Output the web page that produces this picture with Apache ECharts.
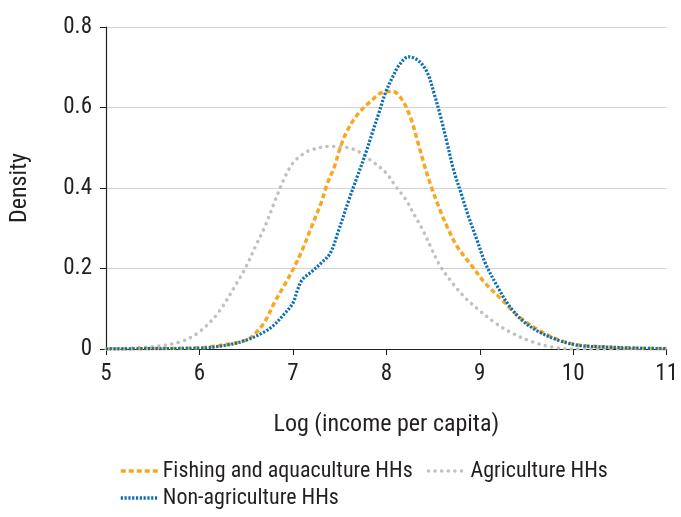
<!DOCTYPE html>
<html>
<head>
<meta charset="utf-8">
<script src="https://cdn.jsdelivr.net/npm/echarts@6/dist/echarts.min.js"></script>
<style>
  html, body { margin: 0; padding: 0; background: #fff; }
  #chart { width: 681px; height: 517px; }
</style>
</head>
<body>
<div id="chart"></div>
<script>
// Kernel density of log income per capita, by household type
const seriesNames = ['Fishing and aquaculture HHs', 'Agriculture HHs', 'Non-agriculture HHs'];

const fishX = [5.0, 5.5, 6.0, 6.3, 6.5, 6.6, 6.7, 6.8, 6.9, 7.0, 7.1, 7.2, 7.3, 7.37, 7.44, 7.5, 7.57, 7.69, 7.85, 7.96, 8.07, 8.17, 8.26, 8.33, 8.4, 8.48, 8.56, 8.65, 8.76, 8.92, 9.06, 9.24, 9.42, 9.63, 9.85, 10.06, 10.34, 10.7, 11.0];
const fishY = [0.0, 0.001, 0.003, 0.012, 0.022, 0.039, 0.068, 0.114, 0.155, 0.197, 0.246, 0.304, 0.362, 0.412, 0.450, 0.495, 0.537, 0.582, 0.619, 0.638, 0.640, 0.619, 0.574, 0.520, 0.462, 0.404, 0.354, 0.304, 0.254, 0.205, 0.163, 0.122, 0.080, 0.047, 0.022, 0.010, 0.005, 0.002, 0.001];

const agriX = [5.0, 5.5, 5.8, 6.0, 6.2, 6.4, 6.5, 6.6, 6.7, 6.8, 6.9, 7.0, 7.1, 7.2, 7.38, 7.64, 7.85, 8.0, 8.1, 8.21, 8.3, 8.39, 8.49, 8.58, 8.71, 8.85, 8.99, 9.17, 9.35, 9.56, 9.77, 10.0, 11.0];
const agriY = [0.0, 0.006, 0.018, 0.043, 0.090, 0.164, 0.205, 0.255, 0.304, 0.363, 0.420, 0.462, 0.483, 0.495, 0.503, 0.497, 0.466, 0.437, 0.404, 0.371, 0.333, 0.296, 0.246, 0.205, 0.163, 0.126, 0.097, 0.064, 0.039, 0.018, 0.005, 0.0, 0.0];

const nonAgX = [5.0, 5.5, 6.0, 6.3, 6.5, 6.7, 6.8, 6.9, 7.0, 7.05, 7.1, 7.2, 7.3, 7.4, 7.48, 7.6, 7.69, 7.78, 7.85, 7.92, 7.99, 8.07, 8.14, 8.24, 8.35, 8.44, 8.51, 8.58, 8.65, 8.72, 8.8, 8.88, 8.97, 9.06, 9.19, 9.31, 9.45, 9.63, 9.85, 10.06, 10.34, 10.7, 11.0];
const nonAgY = [0.0, 0.001, 0.002, 0.010, 0.022, 0.043, 0.060, 0.085, 0.114, 0.147, 0.172, 0.192, 0.213, 0.238, 0.288, 0.371, 0.429, 0.487, 0.537, 0.586, 0.636, 0.677, 0.706, 0.726, 0.715, 0.686, 0.636, 0.578, 0.512, 0.445, 0.387, 0.329, 0.271, 0.213, 0.155, 0.109, 0.072, 0.043, 0.021, 0.009, 0.005, 0.002, 0.001];

const xTicks = [5, 6, 7, 8, 9, 10, 11];
const yTicks = [0, 0.2, 0.4, 0.6, 0.8];

const zip = (xs, ys) => xs.map((x, i) => [x, ys[i]]);

const FONT = "'Roboto Condensed', 'Open Sans', sans-serif";
const TEXT = '#231f20';

const chart = echarts.init(document.getElementById('chart'), null, { renderer: 'canvas' });

const baseSeries = (name, xs, ys, color, dash, width, cap) => ({
  name,
  type: 'line',
  data: zip(xs, ys),
  smooth: 0.35,
  symbol: 'none',
  showSymbol: false,
  color,
  lineStyle: { color, width, type: dash, cap: cap || 'butt' },
  animation: false
});

const legendBase = {
  itemWidth: 37, itemHeight: 14, itemGap: 14,
  itemStyle: { opacity: 0 },
  lineStyle: { width: 3.5 },
  textStyle: { fontFamily: FONT, fontSize: 22, color: TEXT }
};

chart.setOption({
  animation: false,
  textStyle: { fontFamily: FONT, color: TEXT },
  grid: { left: 106, right: 13, top: 27, bottom: 168, containLabel: false },
  legend: [
    Object.assign({ data: [seriesNames[0], seriesNames[1]], left: 114, top: 455 }, legendBase),
    Object.assign({ data: [seriesNames[2]], left: 114, top: 482 }, legendBase)
  ],
  xAxis: {
    type: 'value',
    min: xTicks[0], max: xTicks[xTicks.length - 1], interval: 1,
    name: 'Log (income per capita)',
    nameLocation: 'middle', nameGap: 64,
    nameTextStyle: { fontFamily: FONT, fontSize: 24, color: TEXT },
    axisLine: { show: true, lineStyle: { color: '#231f20', width: 1.2 } },
    axisTick: { show: true, length: 6, lineStyle: { color: '#231f20' } },
    axisLabel: { fontFamily: FONT, fontSize: 23, color: TEXT, margin: 14 },
    splitLine: { show: false }
  },
  yAxis: {
    type: 'value',
    min: yTicks[0], max: yTicks[yTicks.length - 1], interval: 0.2,
    name: 'Density',
    nameLocation: 'middle', nameGap: 74, nameRotate: 90,
    nameTextStyle: { fontFamily: FONT, fontSize: 24, color: TEXT },
    axisLine: { show: true, lineStyle: { color: '#231f20', width: 1.2 } },
    axisTick: { show: true, length: 6, lineStyle: { color: '#231f20' } },
    axisLabel: {
      fontFamily: FONT, fontSize: 23, color: TEXT, margin: 14,
      formatter: v => (v === 0 ? '0' : String(Math.round(v * 10) / 10))
    },
    splitLine: { show: true, lineStyle: { color: '#d4d4d4', width: 1.2 } }
  },
  series: [
    baseSeries(seriesNames[1], agriX, agriY, '#c0c0c0', [0.1, 6.5], 3.5, 'round'),
    baseSeries(seriesNames[0], fishX, fishY, '#f7a823', [5, 3], 3.5),
    baseSeries(seriesNames[2], nonAgX, nonAgY, '#0b6fb6', [2.2, 1.6], 3.2)
  ]
});
</script>
</body>
</html>
